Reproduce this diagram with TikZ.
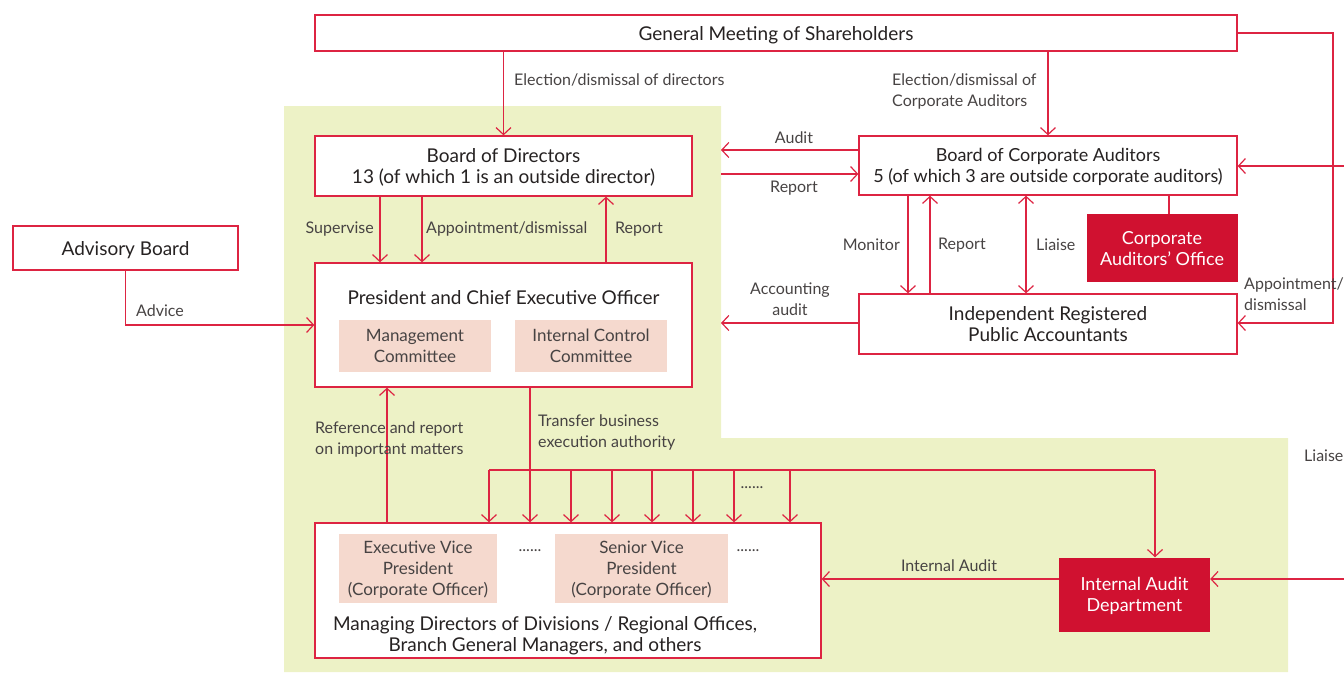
\documentclass[tikz,border=0pt]{standalone}
\usepackage{fontspec}
\setmainfont{Lato}
\usetikzlibrary{arrows.meta}
\definecolor{linered}{RGB}{221,36,66}
\definecolor{darkred}{RGB}{208,17,48}
\definecolor{pale}{RGB}{237,242,198}
\definecolor{pinkbox}{RGB}{245,217,206}
\definecolor{txt}{RGB}{38,34,34}
\begin{document}
\begin{tikzpicture}[x=1pt,y=-1pt,
  box/.style={draw=linered,line width=1.3pt,fill=white,align=center,inner sep=0pt,
    text depth=0pt,text=txt,font=\fontsize{19}{21}\selectfont},
  redbox/.style={fill=darkred,text=white,align=center,inner sep=0pt,
    text depth=0pt,font=\fontsize{18}{21}\selectfont},
  subbox/.style={fill=pinkbox,text=txt!85,align=center,inner sep=0pt,
    text depth=0pt,font=\fontsize{17}{21}\selectfont},
  lbl/.style={text=txt!85,align=left,inner sep=0pt,font=\fontsize{16}{21}\selectfont},
  link/.style={draw=linered,line width=1.2pt},
  arr/.style={link,-{Straight Barb[length=7pt,width=15pt]}},
  dbl/.style={link,{Straight Barb[length=7pt,width=15pt]}-{Straight Barb[length=7pt,width=15pt]}}]

\useasboundingbox (0,0) rectangle (1344,673);

% background
\fill[pale] (284,106) -- (721,106) -- (721,438) -- (1288,438) -- (1288,672) -- (284,672) -- cycle;
\coordinate (gedge) at (721,0);
\coordinate (redge) at (1344,0);
\coordinate (rloop) at (1333,100);
\coordinate (busL) at (489,470);
\coordinate (busR) at (1155,470);

% boxes
\node[box,minimum width=922,minimum height=36] (gm) at (776,33) {General Meeting of Shareholders};
\node[box,minimum width=377,minimum height=60] (bod) at (503.5,166) {Board of Directors\\13 (of which 1 is an outside director)};
\node[box,minimum width=378,minimum height=59,font=\fontsize{18}{21}\selectfont] (bca) at (1048,165.5) {Board of Corporate Auditors\\5 (of which 3 are outside corporate auditors)};
\node[redbox,minimum width=151,minimum height=68] (cao) at (1162,248) {Corporate\\Auditors’ Office};
\node[box,minimum width=225,minimum height=44] (adv) at (125.5,248) {Advisory Board};
\node[box,minimum width=377,minimum height=124] (pres) at (503.5,325) {};
\node[text=txt,inner sep=0pt,text depth=0pt,font=\fontsize{19}{21}\selectfont] (prestitle) at (503.5,297) {President and Chief Executive Officer};
\node[subbox,minimum width=152,minimum height=52] (mgmt) at (415,346) {Management\\Committee};
\node[subbox,minimum width=152,minimum height=52] (ictrl) at (591,346) {Internal Control\\Committee};
\node[box,minimum width=378,minimum height=60] (irpa) at (1048,324) {Independent Registered\\Public Accountants};
\node[box,minimum width=506,minimum height=135] (mgr) at (568,590.5) {};
\node[subbox,minimum width=158,minimum height=69] (evp) at (418,568.5) {Executive Vice\\President\\(Corporate Officer)};
\node[subbox,minimum width=173,minimum height=69] (svp) at (641.5,568.5) {Senior Vice\\President\\(Corporate Officer)};
\node[lbl] (dotsA) at (530,551) {......};
\node[lbl] (dotsB) at (748,551) {......};
\node[text=txt,align=center,inner sep=0pt,text depth=0pt,font=\fontsize{19}{21}\selectfont] (mgrtext) at (545,634) {Managing Directors of Divisions / Regional Offices,\\Branch General Managers, and others};
\node[redbox,minimum width=151,minimum height=74] (iad) at (1134.5,594.5) {Internal Audit\\Department};

% connectors
\draw[arr] (gm.south -| bod.north) -- (bod.north);
\draw[arr] (gm.south -| bca.north) -- (bca.north);
\draw[arr] (bca.west |- 0,150) -- (gedge |- 0,150);
\draw[arr] (gedge |- 0,174) -- (bca.west |- 0,174);
\draw[link] (bca.south -| 1169,0) -- (cao.north -| 1169,0);
\draw[arr] (bod.south -| 380,0) -- (pres.north -| 380,0);
\draw[arr] (bod.south -| 422,0) -- (pres.north -| 422,0);
\draw[arr] (pres.north -| 606,0) -- (bod.south -| 606,0);
\draw[arr] (adv.south) |- (pres.west);
\draw[arr] (bca.south -| 908,0) -- (irpa.north -| 908,0);
\draw[arr] (irpa.north -| 930,0) -- (bca.south -| 930,0);
\draw[dbl] (bca.south -| 1026,0) -- (irpa.north -| 1026,0);
\draw[arr] (irpa.west |- 0,323) -- (gedge |- 0,323);
\draw[arr] (gm.east) -| (rloop) |- (irpa.east |- 0,323);
\draw[arr] (redge |- 0,166) -- (bca.east |- 0,166);
\draw[arr] (redge |- 0,579) -- (iad.east |- 0,579);
\draw[arr] (mgr.north -| 387,0) -- (pres.south -| 387,0);
\draw[link] (pres.south -| 530,0) -- (530,470);
\draw[link] (busL) -- (busR);
\foreach \x in {489,530,571,612,652,693,734,790}
  \draw[arr] (\x,470) -- (mgr.north -| \x,0);
\draw[arr] (busR) -- (iad.north -| busR);
\draw[arr] (iad.west |- 0,579) -- (mgr.east |- 0,579);

% labels
\node[lbl,anchor=west] (lelect) at (514,80) {Election/dismissal of directors};
\node[lbl,anchor=west] (lelectca) at (892,91) {Election/dismissal of\\Corporate Auditors};
\node[lbl] (laudit) at (794,138) {Audit};
\node[lbl] (lreport) at (794,188) {Report};
\node[lbl,anchor=east] (lsuper) at (374,229) {Supervise};
\node[lbl,anchor=west] (lappt) at (426,229) {Appointment/dismissal};
\node[lbl,anchor=west] (lreportb) at (615,229) {Report};
\node[lbl,anchor=west] (ladvice) at (136,311) {Advice};
\node[lbl,align=center] (lacc) at (790,299) {Accounting\\audit};
\node[lbl,anchor=east] (lmon) at (900,245) {Monitor};
\node[lbl,anchor=west] (lreportc) at (938,245) {Report};
\node[lbl,anchor=west] (lliaise) at (1036,245) {Liaise};
\node[lbl,anchor=west] (lapptb) at (1244,294) {Appointment/\\dismissal};
\node[lbl,anchor=west] (lref) at (315,439) {Reference and report\\on important matters};
\node[lbl,anchor=west] (ltrans) at (538,432) {Transfer business\\execution authority};
\node[lbl] (dotsC) at (752,488) {......};
\node[lbl] (linaudit) at (949,566) {Internal Audit};
\node[lbl,anchor=west] (lliaiseb) at (1304,456) {Liaise};
\end{tikzpicture}
\end{document}
